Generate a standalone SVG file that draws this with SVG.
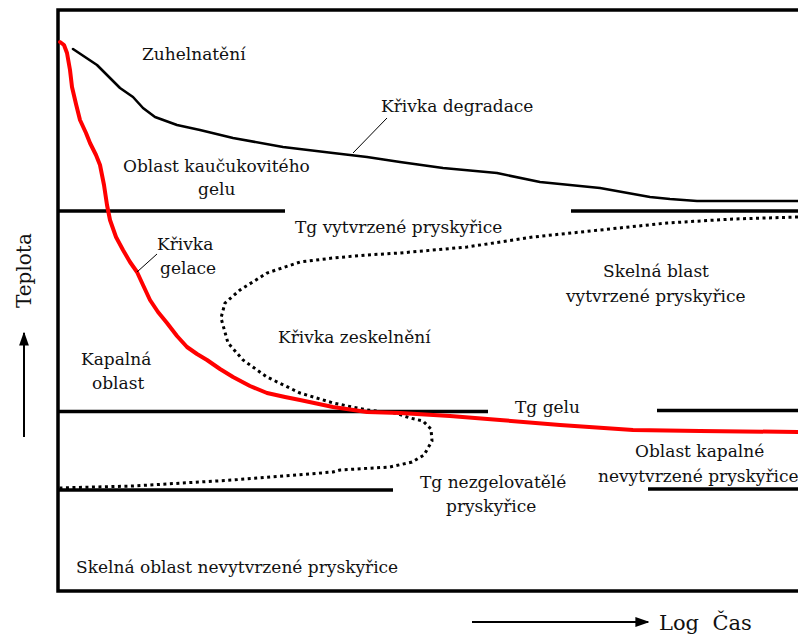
<svg xmlns="http://www.w3.org/2000/svg" width="798" height="636" viewBox="0 0 798 636">
<defs>
<style>
text{font-family:"DejaVu Serif","Liberation Serif",serif;font-size:17px;fill:#111}
.frame{stroke:#000;stroke-width:3.5;fill:none}
.hl{stroke:#000;stroke-width:3.5;fill:none}
.lead{stroke:#000;stroke-width:1;fill:none}
.gel{stroke:#f00;stroke-width:4;fill:none;stroke-linejoin:round;stroke-linecap:round}
.deg{stroke:#000;stroke-width:2.6;fill:none;stroke-linejoin:round;stroke-linecap:round}
.vit{stroke:#000;stroke-width:3;fill:none;stroke-dasharray:3 3.5}
.ax{stroke:#000;stroke-width:2;fill:none}
</style>
<marker id="ah" viewBox="0 0 10 10" refX="9" refY="5" markerWidth="7" markerHeight="7" markerUnits="userSpaceOnUse" orient="auto">
<path d="M0,0 L10,5 L0,10 z" fill="#000"/>
</marker>
<marker id="ah2" viewBox="0 0 10 10" refX="9" refY="5" markerWidth="14" markerHeight="14" markerUnits="userSpaceOnUse" orient="auto">
<path d="M0,1.5 L10,5 L0,8.5 z" fill="#000"/>
</marker>
</defs>
<rect width="798" height="636" fill="#fff"/>
<g id="frame">
<path class="frame" d="M800,10 H58 V591 H800"/>
</g>
<g id="levels">
<line class="hl" x1="58" y1="211" x2="285" y2="211"/>
<line class="hl" x1="571" y1="211" x2="800" y2="211"/>
<line class="hl" x1="58" y1="411.5" x2="488" y2="411.5"/>
<line class="hl" x1="657" y1="410.5" x2="800" y2="410.5"/>
<line class="hl" x1="58" y1="490" x2="393" y2="490"/>
<line class="hl" x1="648" y1="489" x2="800" y2="489"/>
</g>
<g id="curves">
<polyline id="degradace" class="deg" points="73,49 85,57 97,65 110,78 120,88 133,97 143,108 155,117 177,125 200,130 233,138 283,147 333,153 367,157 400,162 443,168 497,173 540,182 600,188 650,197 670,199 697,201 800,201"/>
<polyline id="zeskelneni" class="vit" points="798,217 733,219 667,223 600,230 533,237 467,247 400,253 367,255 333,258 300,262 267,273 240,290 225,303 221,318 228,343 243,360 267,377 300,393 333,403 367,410 395,413 410,418 423,421 431,429 432,441 424,455 412,462 390,467 340,470 333,472 233,480 133,486 58,488"/>
<polyline id="gelace" class="gel" points="60,42 64,45 67,53 70,70 72,87 76,104 80,120 86,133 90,143 96,155 100,165 104,185 107,205 110,220 116,237 123,250 130,262 137,272 143,285 150,300 158,312 167,323 177,336 187,347 197,354 207,360 220,369 233,377 250,386 267,393 285,397 300,400 333,407 367,412 400,413 450,416 500,420 560,425 633,430 700,431 800,432"/>
<line class="lead" x1="353" y1="153" x2="387" y2="118"/>
<line class="lead" x1="137" y1="272" x2="157" y2="254"/>
</g>
<g id="labels">
<text x="142" y="60">Zuhelnatění</text>
<text x="381" y="112">Křivka degradace</text>
<text x="123" y="172">Oblast kaučukovitého</text>
<text x="198" y="195">gelu</text>
<text x="295" y="233">Tg vytvrzené pryskyřice</text>
<text x="157" y="250">Křivka</text>
<text x="160" y="274">gelace</text>
<text x="603" y="277">Skelná blast</text>
<text x="566" y="302">vytvrzené pryskyřice</text>
<text x="278" y="343">Křivka zeskelnění</text>
<text x="81" y="365">Kapalná</text>
<text x="92" y="389">oblast</text>
<text x="515" y="413">Tg gelu</text>
<text x="635" y="457">Oblast kapalné</text>
<text x="598" y="482">nevytvrzené pryskyřice</text>
<text x="420" y="488">Tg nezgelovatělé</text>
<text x="446" y="512">pryskyřice</text>
<text x="76" y="573">Skelná oblast nevytvrzené pryskyřice</text>
</g>
<g id="axes">
<line class="ax" x1="24" y1="437" x2="24" y2="333" marker-end="url(#ah2)"/>
<text transform="translate(31,308) rotate(-90)" style="font-size:20px">Teplota</text>
<line class="ax" x1="472" y1="622" x2="648" y2="622" marker-end="url(#ah2)"/>
<text x="659" y="630" style="font-size:21px" xml:space="preserve">Log  Čas</text>
</g>
</svg>
